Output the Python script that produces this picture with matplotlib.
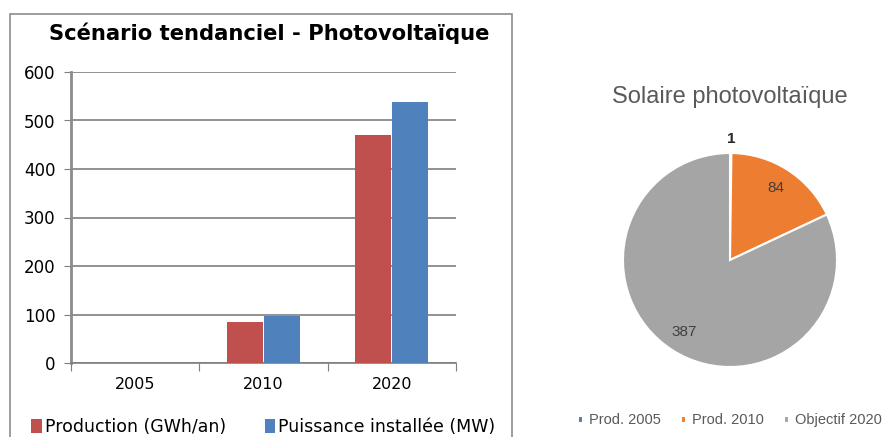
"""Scénario tendanciel photovoltaïque : barres + camembert."""
import numpy as np
import matplotlib
matplotlib.use('Agg')
import matplotlib.pyplot as plt
from matplotlib.patches import Rectangle

# données du graphique en barres
years = ['2005', '2010', '2020']
production = [0.5, 84, 471]
puissance = [0.5, 97, 538]
bar_series = ['Production (GWh/an)', 'Puissance installée (MW)']

# données du camembert
pie_labels = ['Prod. 2005', 'Prod. 2010', 'Objectif 2020']
pie_values = [1, 84, 387]

red = '#C0504D'
blue = '#4F81BD'
pie_colors = ['#5B7BA6', '#ED7D31', '#A5A5A5']
grey_txt = '#595959'

fig = plt.figure(figsize=(8.95, 4.37), dpi=100)

# cadre du graphique de gauche
fig.patches.append(Rectangle((10 / 895, -0.05), 502 / 895, 1.05 - 14 / 437,
                             transform=fig.transFigure, fill=False,
                             edgecolor='#8c8c8c', linewidth=1.2))
fig.text(269 / 895, 1 - 33 / 437, 'Scénario tendanciel - Photovoltaïque',
         ha='center', va='center', fontsize=15.2, fontweight='bold',
         family='DejaVu Sans')

ax = fig.add_axes([71 / 895, 74 / 437, 385 / 895, 291 / 437])
x = np.arange(len(years))
w = 0.28
ax.bar(x - w / 2 - 0.004, production, w, color=red, label=bar_series[0], zorder=3)
ax.bar(x + w / 2 + 0.004, puissance, w, color=blue, label=bar_series[1], zorder=3)
ax.set_xlim(-0.5, 2.5)
ax.set_ylim(0, 600)
ax.set_yticks(range(0, 601, 100))
ax.yaxis.grid(True, color='#7f7f7f', linewidth=1.2, zorder=0)
for s in ['top', 'right']:
    ax.spines[s].set_visible(False)
ax.spines['left'].set_color('#8c8c8c')
ax.spines['left'].set_linewidth(2)
ax.spines['bottom'].set_color('#7f7f7f')
ax.spines['bottom'].set_linewidth(1.2)
ax.set_xticks([-0.5, 0.5, 1.5, 2.5], minor=False)
ax.set_xticklabels([])
ax.set_xticks(x, minor=True)
ax.set_xticklabels(years, minor=True)
ax.tick_params(axis='x', which='major', length=6, color='#7f7f7f', direction='out')
ax.tick_params(axis='x', which='minor', length=0, pad=10, labelsize=11.5)
ax.tick_params(axis='y', length=5, color='#7f7f7f', labelsize=12, pad=6)
ax.legend(loc='upper center', bbox_to_anchor=(0.5, -0.135), ncol=2,
          frameon=False, fontsize=12.5, handlelength=0.6, handleheight=0.9,
          handletextpad=0.2, columnspacing=2.2)

# camembert
pax = fig.add_axes([623 / 895, 70 / 437, 214 / 895, 214 / 437])
wedges, _ = pax.pie(pie_values, colors=pie_colors, startangle=90,
                    counterclock=False,
                    wedgeprops=dict(edgecolor='white', linewidth=1.5))
for wdg, val in zip(wedges, pie_values):
    ang = np.deg2rad((wdg.theta1 + wdg.theta2) / 2)
    if val < 10:
        r, col, wt = 1.13, '#262626', 'bold'
    else:
        r, col, wt = 0.8, '#404040', 'normal'
    pax.text(r * np.cos(ang), r * np.sin(ang), str(val), ha='center',
             va='center', fontsize=11, color=col, fontweight=wt,
             family='Liberation Sans')
pax.set_xlim(-1, 1)
pax.set_ylim(-1, 1)
fig.text(730 / 895, 1 - 97 / 437, 'Solaire photovoltaïque', ha='center',
         va='center', fontsize=17, color=grey_txt, family='Liberation Sans')
pax.legend(wedges, pie_labels, loc='center', bbox_to_anchor=(0.5, -0.25),
           ncol=3, frameon=False, labelcolor=grey_txt,
           handlelength=0.35, handleheight=0.35, handletextpad=0.4,
           columnspacing=1.4, prop={'family': 'Liberation Sans', 'size': 10.5})

fig.savefig('out.png', dpi=100)
